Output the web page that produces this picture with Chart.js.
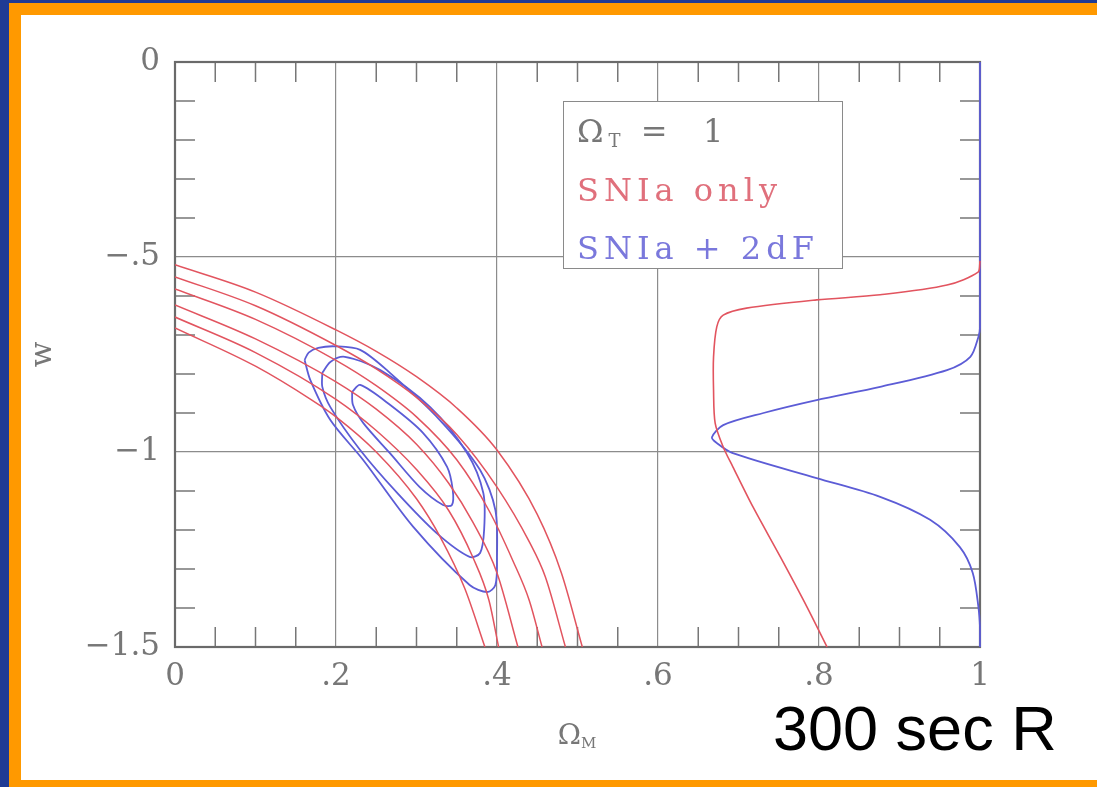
<!DOCTYPE html>
<html>
<head>
<meta charset="utf-8">
<script src="https://cdn.jsdelivr.net/npm/chart.js@4.4.1/dist/chart.umd.min.js"></script>
<style>
  html, body { margin: 0; padding: 0; width: 1097px; height: 787px; overflow: hidden; background: #fff; }
  .strip { position: absolute; }
  #chart { position: absolute; left: 0; top: 0; filter: blur(0.5px); }
  #key {
    position: absolute; left: 563px; top: 101px; width: 278px; height: 166px;
    border: 1.5px solid #8a8a8a; background: #fff; filter: blur(0.5px);
    font-family: 'DejaVu Serif', serif; font-size: 32px; line-height: 32px; letter-spacing: 5px; white-space: pre;
  }
  #key span { position: absolute; left: 13px; }
  #key sub { font-size: 18px; vertical-align: -5px; line-height: 0; }
  #xTitle {
    position: absolute; left: 532px; width: 90px; top: 721px; text-align: center;
    font-family: 'DejaVu Serif', serif; font-size: 28px; line-height: 28px; color: #777; filter: blur(0.4px);
  }
  #xTitle sub { font-size: 15px; vertical-align: -4px; line-height: 0; }
  #exposure {
    position: absolute; left: 773px; top: 697px;
    font-family: 'Liberation Sans', Arial, sans-serif; font-size: 63px; line-height: 63px; color: #000;
  }
</style>
</head>
<body>
<!-- slide frame: navy edge with an orange border -->
<div class="strip" style="left:0;top:0;width:9px;height:787px;background:#1f3b94"></div>
<div class="strip" style="left:0;top:0;width:1097px;height:3px;background:#1f3b94"></div>
<div class="strip" style="left:9px;top:3px;width:12px;height:784px;background:#ff9900"></div>
<div class="strip" style="left:9px;top:3px;width:1088px;height:12px;background:#ff9900"></div>
<div class="strip" style="left:9px;top:780px;width:1088px;height:7px;background:#ff9900"></div>
<canvas id="chart" width="1097" height="787"></canvas>
<div id="key">
  <span style="top:13px;color:#777">Ω<sub>T</sub> =  1</span>
  <span style="top:72px;color:#e0707c">SNIa only</span>
  <span style="top:130px;color:#7a78dc">SNIa + 2dF</span>
</div>
<div id="xTitle">Ω<sub>M</sub></div>
<div id="exposure">300 sec R</div>
<script>
// axis ticks
const xTickValues = [0, 0.2, 0.4, 0.6, 0.8, 1];
const xTickLabels = ['0', '.2', '.4', '.6', '.8', '1'];
const wTickValues = [-1.5, -1, -0.5, 0];
const wTickLabels = ['\u22121.5', '\u22121', '\u2212.5', '0'];
const xMinorTicks = [0.05, 0.1, 0.15, 0.25, 0.3, 0.35, 0.45, 0.5, 0.55, 0.65, 0.7, 0.75, 0.85, 0.9, 0.95];
const wMinorTicks = [-0.1, -0.2, -0.3, -0.4, -0.6, -0.7, -0.8, -0.9, -1.1, -1.2, -1.3, -1.4];

// SNIa only confidence contours, [omegaM, w]
const snLine1 = [[0, -0.52], [0.1, -0.59], [0.2, -0.687], [0.25, -0.742], [0.3, -0.807], [0.35, -0.887], [0.4, -0.995], [0.45, -1.16], [0.48, -1.31], [0.506, -1.5]];
const snLine2 = [[0, -0.551], [0.1, -0.625], [0.2, -0.727], [0.25, -0.787], [0.3, -0.86], [0.35, -0.955], [0.4, -1.09], [0.44, -1.23], [0.46, -1.32], [0.485, -1.5]];
const snLine3 = [[0, -0.582], [0.1, -0.66], [0.2, -0.765], [0.25, -0.83], [0.3, -0.91], [0.35, -1.02], [0.39, -1.15], [0.42, -1.28], [0.44, -1.38], [0.456, -1.5]];
const snLine4 = [[0, -0.623], [0.1, -0.71], [0.2, -0.82], [0.25, -0.89], [0.3, -0.98], [0.34, -1.08], [0.37, -1.18], [0.4, -1.31], [0.426, -1.5]];
const snLine5 = [[0, -0.654], [0.1, -0.745], [0.2, -0.865], [0.25, -0.945], [0.3, -1.045], [0.34, -1.15], [0.37, -1.27], [0.39, -1.38], [0.402, -1.5]];
const snLine6 = [[0, -0.682], [0.1, -0.78], [0.17, -0.867], [0.2, -0.91], [0.25, -1.0], [0.3, -1.12], [0.33, -1.22], [0.36, -1.35], [0.385, -1.5]];

// SNIa + 2dF closed contours
const combOuter = [[0.161, -0.764], [0.166, -0.745], [0.178, -0.733], [0.199, -0.729], [0.230, -0.738], [0.267, -0.797], [0.329, -0.918], [0.379, -1.046], [0.398, -1.149], [0.400, -1.277], [0.398, -1.341], [0.388, -1.359], [0.366, -1.341], [0.296, -1.192], [0.234, -1.021], [0.193, -0.918], [0.168, -0.815], [0.161, -0.764]];
const combMiddle = [[0.183, -0.797], [0.193, -0.769], [0.211, -0.756], [0.255, -0.790], [0.317, -0.885], [0.363, -1.003], [0.383, -1.105], [0.384, -1.2], [0.379, -1.259], [0.366, -1.269], [0.325, -1.208], [0.276, -1.105], [0.230, -0.995], [0.193, -0.885], [0.183, -0.833], [0.183, -0.797]];
const combInner = [[0.220, -0.846], [0.230, -0.828], [0.267, -0.879], [0.308, -0.951], [0.338, -1.038], [0.345, -1.097], [0.344, -1.136], [0.333, -1.136], [0.304, -1.090], [0.267, -1.003], [0.234, -0.926], [0.221, -0.879], [0.220, -0.846]];

// marginal likelihood of w, drawn leftwards from the right edge
const snMarginal = [[1.0, -0.51], [0.998, -0.538], [0.959, -0.572], [0.876, -0.597], [0.797, -0.610], [0.710, -0.631], [0.681, -0.649], [0.673, -0.679], [0.669, -0.756], [0.669, -0.841], [0.671, -0.926], [0.681, -0.987], [0.693, -1.038], [0.718, -1.141], [0.752, -1.269], [0.785, -1.397], [0.810, -1.5]];
const combMarginal = [[1, 0], [1, -0.68], [0.998, -0.705], [0.988, -0.756], [0.959, -0.79], [0.876, -0.833], [0.797, -0.867], [0.731, -0.9], [0.681, -0.931], [0.667, -0.962], [0.673, -0.977], [0.693, -1.003], [0.797, -1.067], [0.876, -1.115], [0.938, -1.174], [0.975, -1.244], [0.991, -1.31], [0.998, -1.397], [1, -1.45], [1, -1.5]];

const RED = '#e2545f';
const BLUE = '#5c5cd6';

const toPoints = arr => arr.map(p => ({ x: p[0], y: p[1] }));
const curve = (arr, color, extra) => Object.assign({
    data: toPoints(arr),
    showLine: true,
    borderColor: color,
    borderWidth: 1.6,
    pointRadius: 0,
    tension: 0.35,
    fill: false
}, extra || {});
const band = arr => curve(arr, RED, { cubicInterpolationMode: 'monotone', borderWidth: 1.5 });

// frame on all four sides plus the short inward ticks
const frameTicks = {
    id: 'frameTicks',
    beforeDatasetsDraw(chart) {
        const { ctx, chartArea: a, scales } = chart;
        ctx.save();
        ctx.strokeStyle = '#777';
        ctx.lineWidth = 1.5;
        ctx.beginPath();
        xMinorTicks.forEach(v => {
            const px = scales.x.getPixelForValue(v);
            ctx.moveTo(px, a.bottom); ctx.lineTo(px, a.bottom - 20);
            ctx.moveTo(px, a.top); ctx.lineTo(px, a.top + 20);
        });
        wMinorTicks.forEach(v => {
            const py = scales.y.getPixelForValue(v);
            ctx.moveTo(a.left, py); ctx.lineTo(a.left + 20, py);
            ctx.moveTo(a.right, py); ctx.lineTo(a.right - 20, py);
        });
        ctx.stroke();
        ctx.strokeStyle = '#6a6a6a';
        ctx.lineWidth = 2.2;
        ctx.strokeRect(a.left, a.top, a.right - a.left, a.bottom - a.top);
        ctx.restore();
    }
};

const tickFont = { family: 'DejaVu Serif', size: 31 };

new Chart(document.getElementById('chart').getContext('2d'), {
    type: 'scatter',
    data: {
        datasets: [
            band(snLine1), band(snLine2), band(snLine3),
            band(snLine4), band(snLine5), band(snLine6),
            curve(combOuter, BLUE, { borderWidth: 1.8, tension: 0.3 }),
            curve(combMiddle, BLUE, { borderWidth: 1.8, tension: 0.3 }),
            curve(combInner, BLUE, { borderWidth: 1.8, tension: 0.3 }),
            curve(snMarginal, RED, { tension: 0.3, clip: 3 }),
            curve(combMarginal, BLUE, { borderWidth: 1.8, tension: 0.3, clip: 3 })
        ]
    },
    options: {
        responsive: false,
        animation: false,
        events: [],
        layout: { padding: { left: 25, right: 117, top: 62, bottom: 40 } },
        plugins: { legend: { display: false }, tooltip: { enabled: false } },
        scales: {
            x: {
                type: 'linear', min: 0, max: 1,
                afterBuildTicks: s => { s.ticks = xTickValues.map(v => ({ value: v })); },
                afterFit: s => { s.height = 100; },
                grid: { color: '#8c8c8c', lineWidth: 1.2, drawTicks: false },
                border: { display: false },
                ticks: {
                    autoSkip: false, maxRotation: 0, padding: 11, color: '#777', font: tickFont,
                    callback: v => xTickLabels[xTickValues.indexOf(v)]
                }
            },
            y: {
                type: 'linear', min: -1.5, max: 0,
                afterBuildTicks: s => { s.ticks = wTickValues.map(v => ({ value: v })); },
                afterFit: s => { s.width = 150; },
                grid: { color: '#8c8c8c', lineWidth: 1.2, drawTicks: false },
                border: { display: false },
                title: { display: true, text: 'w', color: '#777', padding: 0, font: { family: 'DejaVu Serif', size: 30 } },
                ticks: {
                    autoSkip: false, padding: 15, color: '#777', font: tickFont,
                    callback: v => wTickLabels[wTickValues.indexOf(v)]
                }
            }
        }
    },
    plugins: [frameTicks]
});
</script>
</body>
</html>
